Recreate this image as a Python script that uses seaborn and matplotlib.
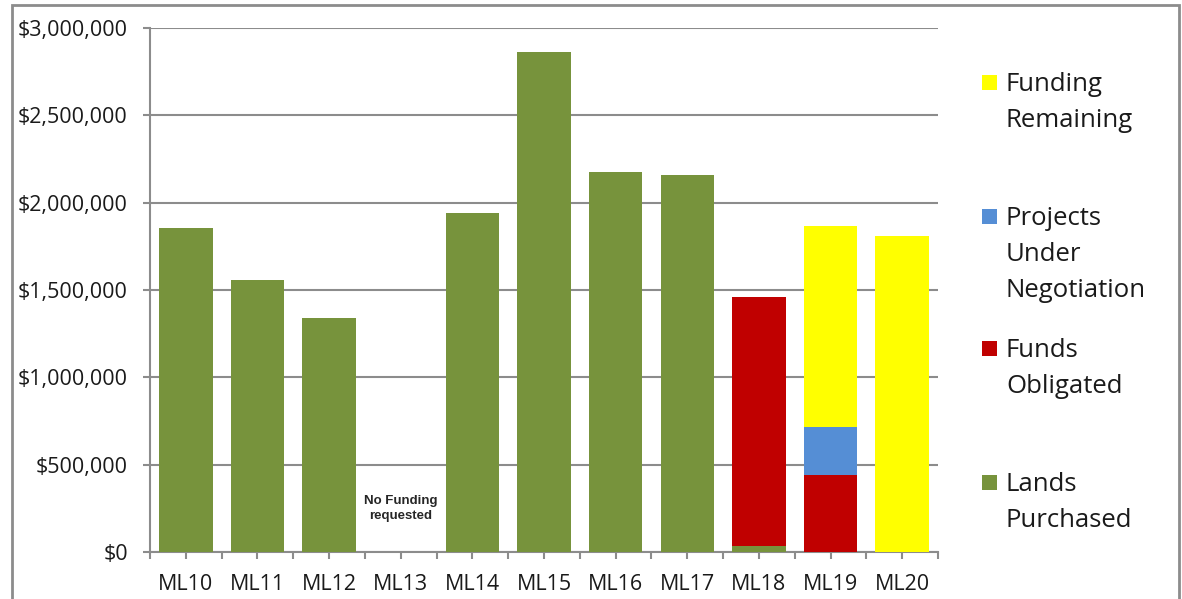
import numpy as np
import pandas as pd
import matplotlib
matplotlib.use("Agg")
import matplotlib.pyplot as plt
from matplotlib.patches import Rectangle
from matplotlib.ticker import StrMethodFormatter, FixedLocator
import seaborn as sns

categories = ["ML10", "ML11", "ML12", "ML13", "ML14", "ML15", "ML16", "ML17", "ML18", "ML19", "ML20"]
lands_purchased = [1855000, 1557000, 1340000, 0, 1941000, 2863000, 2176000, 2158000, 35000, 0, 0]
funds_obligated = [0, 0, 0, 0, 0, 0, 0, 0, 1425000, 441000, 0]
projects_negotiation = [0, 0, 0, 0, 0, 0, 0, 0, 0, 276000, 0]
funding_remaining = [0, 0, 0, 0, 0, 0, 0, 0, 0, 1149000, 1809000]

series_names = ["Lands Purchased", "Funds Obligated", "Projects Under Negotiation", "Funding Remaining"]
legend_labels = ["Funding\nRemaining", "Projects\nUnder\nNegotiation", "Funds\nObligated", "Lands\nPurchased"]
colors = {"Lands Purchased": "#77933C", "Funds Obligated": "#C00000",
          "Projects Under Negotiation": "#558ED5", "Funding Remaining": "#FFFF00"}
yticks = [0, 500000, 1000000, 1500000, 2000000, 2500000, 3000000]

sns.set_theme(style="white")
plt.rcParams["font.family"] = ["Open Sans", "DejaVu Sans"]

df = pd.DataFrame({
    "cat": categories,
    "Lands Purchased": lands_purchased,
    "Funds Obligated": funds_obligated,
    "Projects Under Negotiation": projects_negotiation,
    "Funding Remaining": funding_remaining,
})
cum = df[series_names].cumsum(axis=1)
cum["cat"] = df["cat"]

fig = plt.figure(figsize=(11.82, 5.99), dpi=100)
ax = fig.add_axes([150/1182, 1-552/599, (938-150)/1182, (552-28)/599])

grid_col = "#8C8C8C"
for s in reversed(series_names):
    sns.barplot(data=cum, x="cat", y=s, color=colors[s], saturation=1, width=0.745,
                ax=ax, zorder=3, linewidth=0)

ax.set_ylim(0, 3000000)
ax.set_xlim(-0.5, len(categories) - 0.5)
ax.set_yticks(yticks)
ax.yaxis.set_major_formatter(StrMethodFormatter("${x:,.0f}"))
ax.set_xlabel("")
ax.set_ylabel("")
ax.grid(axis="y", color=grid_col, linewidth=1.5, zorder=0)
ax.set_axisbelow(True)
for side in ["top", "right"]:
    ax.spines[side].set_visible(False)
for side in ["left", "bottom"]:
    ax.spines[side].set_color(grid_col)
    ax.spines[side].set_linewidth(1.5)
ax.xaxis.set_minor_locator(FixedLocator(np.arange(-0.5, len(categories), 1.0)))
ax.tick_params(axis="x", which="both", direction="out", length=5, width=1.5, color=grid_col,
               bottom=True, labelsize=15.5, pad=11, labelcolor="#1a1a1a")
ax.tick_params(axis="y", which="major", direction="out", length=5, width=1.5, color=grid_col,
               left=True, labelsize=15.5, pad=11, labelcolor="#1a1a1a")

ax.text(3, 250000, "No Funding\nrequested", ha="center", va="center", fontsize=9.5,
        fontweight="bold", family=["Liberation Sans", "DejaVu Sans"], linespacing=1.3, zorder=4)

# legend drawn at right
ys = [82, 216, 348, 482]
for lab, yc, s in zip(legend_labels, ys, list(reversed(series_names))):
    fig.patches.append(Rectangle((982/1182, 1-(yc+8)/599), 15/1182, 15/599,
                                 transform=fig.transFigure, facecolor=colors[s],
                                 edgecolor="none"))
    for i, line in enumerate(lab.split("\n")):
        fig.text(1006/1182, 1-(yc + 36*i + 9)/599, line, ha="left", va="baseline",
                 fontsize=18.5, color="#1a1a1a")

# outer chart border
fig.patches.append(Rectangle((12/1182, -0.05), (1179-12)/1182, 1.05 - 5/599,
                             transform=fig.transFigure, facecolor="none",
                             edgecolor=grid_col, linewidth=2))

fig.savefig("out.png", dpi=100)
